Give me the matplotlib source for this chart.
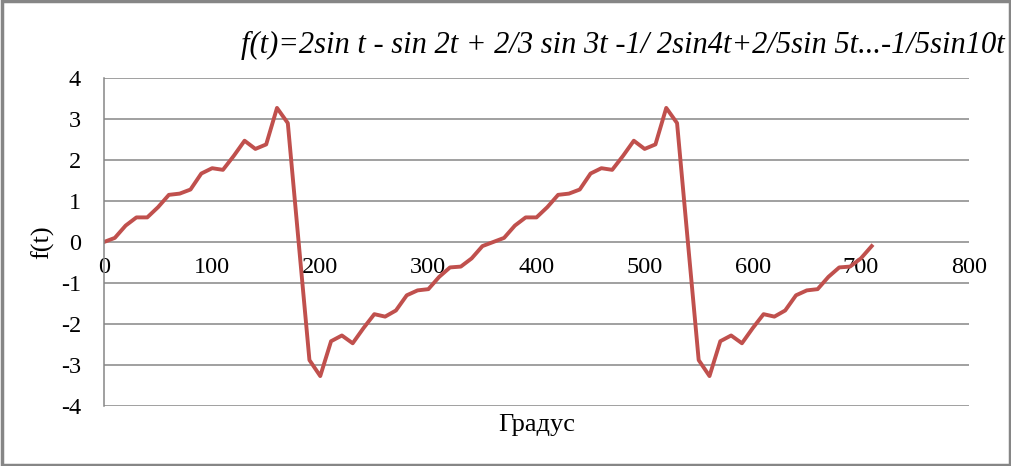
import matplotlib.pyplot as plt
from matplotlib.patches import Rectangle

# degrees, 10-degree steps
degrees = list(range(0, 720, 10))
# values
f_values = [0.0, 0.1, 0.4, 0.6, 0.6, 0.85, 1.15, 1.18, 1.28, 1.67,
            1.8, 1.76, 2.1, 2.47, 2.27, 2.38, 3.27, 2.9, 0.0, -2.88,
            -3.27, -2.42, -2.28, -2.47, -2.1, -1.76, -1.82, -1.67, -1.3, -1.18,
            -1.15, -0.85, -0.62, -0.6, -0.4, -0.1,
            0.0, 0.1, 0.4, 0.6, 0.6, 0.85, 1.15, 1.18, 1.28, 1.67,
            1.8, 1.76, 2.1, 2.47, 2.27, 2.38, 3.27, 2.9, 0.0, -2.88,
            -3.27, -2.42, -2.28, -2.47, -2.1, -1.76, -1.82, -1.67, -1.3, -1.18,
            -1.15, -0.85, -0.62, -0.6, -0.4, -0.1]
x_ticks = [0, 100, 200, 300, 400, 500, 600, 700, 800]
y_ticks = [-4, -3, -2, -1, 0, 1, 2, 3, 4]
title = 'f(t)=2sin t - sin 2t + 2/3 sin 3t -1/ 2sin4t+2/5sin 5t...-1/5sin10t'

plt.rcParams['font.family'] = ['Liberation Serif', 'DejaVu Serif']
plt.rcParams['axes.unicode_minus'] = False
grey = '#868686'

fig = plt.figure(figsize=(10.12, 4.66), dpi=100)
ax = fig.add_axes([104 / 1012, 1 - 406 / 466, 865 / 1012, 328 / 466])

ax.plot(degrees, f_values, color='#C0504D', lw=2.8, solid_joinstyle='round')

ax.set_xlim(0, 800)
ax.set_ylim(-4, 4)
ax.set_xticks(x_ticks)
ax.set_yticks(y_ticks)
ax.yaxis.grid(True, color=grey, lw=1.1)
ax.set_axisbelow(True)

# x axis crosses at y=0, like Excel
ax.spines['bottom'].set_position(('data', 0))
ax.spines['bottom'].set_visible(False)
ax.spines['top'].set_visible(False)
ax.spines['right'].set_visible(False)
ax.spines['left'].set_color(grey)
ax.spines['left'].set_linewidth(1.1)
ax.tick_params(axis='x', length=0, pad=10.5, labelsize=17.5)
ax.tick_params(axis='y', length=0, pad=16.5, labelsize=17.5)

fig.text(43 / 1012, 1 - 242 / 466, 'f(t)', rotation=90, fontsize=19,
         ha='center', va='center')
fig.text(537 / 1012, 1 - 425 / 466, 'Градус', fontsize=19,
         ha='center', va='center')
fig.text(1005 / 1012, 1 - 45 / 466, title, fontsize=22, style='italic',
         ha='right', va='center')

# chart area border
fig.patches.append(Rectangle((0.0015, 0.003), 0.997, 0.994, transform=fig.transFigure,
                             fill=False, edgecolor=grey, lw=2.5))

fig.savefig('out.png', dpi=100)
